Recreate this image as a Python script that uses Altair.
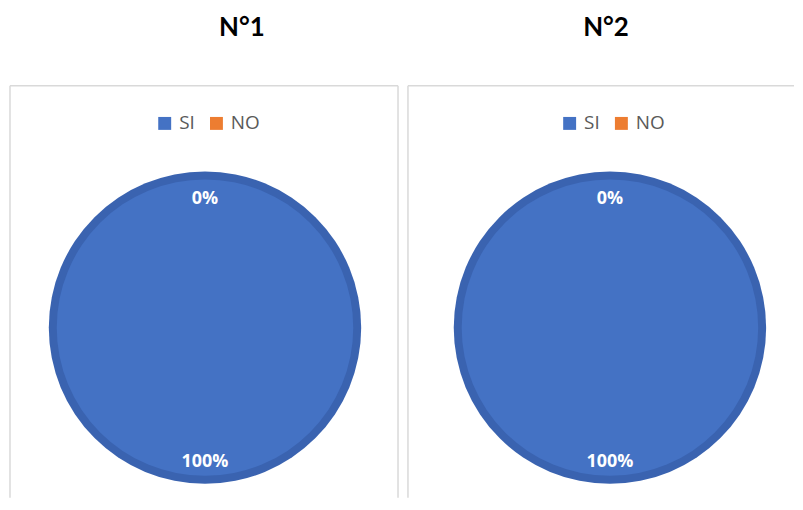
import altair as alt
import pandas as pd

categories = ["SI", "NO"]
panel_titles = ["N°1", "N°2"]
values_1 = [100, 0]
values_2 = [100, 0]
colors = ["#4472c4", "#ed7d31"]

RING = "#3a63b0"
BOX = "#d9d9d9"
H = 414


def panel(title, values, width, cx, title_dx, legend_x, right_edge):
    df = pd.DataFrame({"cat": categories, "value": values})
    base = alt.Chart(df).transform_joinaggregate(total="sum(value)").transform_calculate(
        label="format(datum.value / datum.total, '.0%')"
    )
    theta = alt.Theta("value:Q", stack=True)
    ring = base.mark_arc(radius=157, color=RING).encode(
        theta=theta, x=alt.value(cx), y=alt.value(243)
    )
    pie = base.mark_arc(radius=149).encode(
        theta=theta,
        x=alt.value(cx),
        y=alt.value(243),
        color=alt.Color(
            "cat:N",
            scale=alt.Scale(domain=categories, range=colors),
            sort=categories,
            legend=alt.Legend(
                orient="none",
                legendX=legend_x,
                legendY=28,
                direction="horizontal",
                title=None,
                symbolType="square",
                symbolSize=169,
                symbolStrokeWidth=0,
                labelFontSize=19,
                labelFont="Open Sans",
                labelColor="#595959",
                labelOffset=5,
                columnPadding=12,
                padding=0,
            ),
        ),
    )
    text = base.mark_text(
        radius=132, dy=3, font="Open Sans", fontSize=18, fontWeight="bold", color="white"
    ).encode(theta=theta, text="label:N", x=alt.value(cx), y=alt.value(243))

    one = alt.Data(values=[{"k": 1}])
    top = alt.Chart(one).mark_rule(color=BOX, strokeWidth=1.5).encode(
        x=alt.value(0), x2=alt.value(width), y=alt.value(0)
    )
    left = alt.Chart(one).mark_rule(color=BOX, strokeWidth=1.5).encode(
        x=alt.value(0), y=alt.value(0), y2=alt.value(H)
    )
    layers = [top, left]
    if right_edge:
        layers.append(
            alt.Chart(one).mark_rule(color=BOX, strokeWidth=1.5).encode(
                x=alt.value(width), y=alt.value(0), y2=alt.value(H)
            )
        )
    layers += [ring, pie, text]
    return alt.layer(*layers).properties(
        width=width,
        height=H,
        title=alt.Title(
            title,
            fontSize=26,
            font="Lato",
            fontWeight="bold",
            color="black",
            anchor="middle",
            dx=title_dx,
            offset=44,
        ),
    )


p1 = panel(panel_titles[0], values_1, 390, 196, 38, 146, True)
p2 = panel(panel_titles[1], values_2, 388, 203, 5, 153, False)

chart = (
    alt.hconcat(p1, p2, spacing=8)
    .resolve_scale(color="independent")
    .resolve_legend(color="independent")
    .properties(padding={"left": 1, "top": 6, "right": 0, "bottom": 0})
    .configure_view(stroke=None)
)

chart.save("out.html", embed_options={"renderer": "svg", "actions": False})
